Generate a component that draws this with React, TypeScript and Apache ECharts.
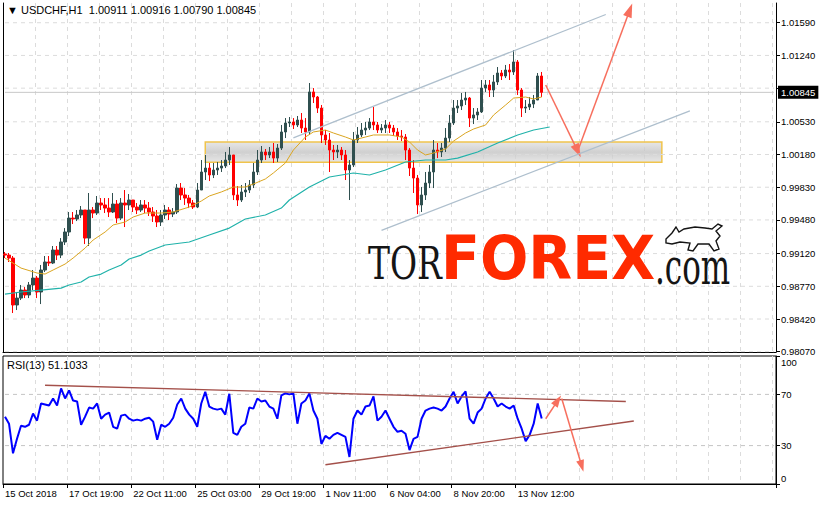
import React, { useEffect, useRef } from 'react';
import * as echarts from 'echarts';

// ---------- data ----------
const CATEGORY_COUNT = 193; // 4-hour slots across the whole plot width (incl. empty future space)
const firstOpen = 0.99115;
const closes = [
  0.99104, 0.99072, 0.98570, 0.98644, 0.98730, 0.98677, 0.98784, 0.98858, 0.98709, 0.98944,
  0.99030, 0.99019, 0.99158, 0.99104, 0.99244, 0.99351, 0.99500, 0.99490, 0.99533, 0.99586,
  0.99286, 0.99586, 0.99554, 0.99661, 0.99640, 0.99607, 0.99565, 0.99650, 0.99500, 0.99661,
  0.99640, 0.99693, 0.99618, 0.99586, 0.99640, 0.99607, 0.99565, 0.99522, 0.99458, 0.99533,
  0.99586, 0.99543, 0.99565, 0.99821, 0.99747, 0.99714, 0.99661, 0.99618, 0.99800, 0.99993,
  1.00035, 0.99961, 1.00014, 1.00035, 1.00057, 1.00121, 1.00175, 0.99747, 0.99693, 0.99779,
  0.99800, 0.99854, 0.99993, 1.00121, 1.00207, 1.00175, 1.00207, 1.00142, 1.00249, 1.00421,
  1.00517, 1.00528, 1.00496, 1.00549, 1.00463, 1.00421, 1.00849, 1.00795, 1.00677, 1.00389,
  1.00335, 1.00228, 1.00207, 1.00228, 1.00175, 1.00014, 1.00068, 1.00335, 1.00389, 1.00442,
  1.00463, 1.00528, 1.00496, 1.00442, 1.00463, 1.00496, 1.00463, 1.00421, 1.00378, 1.00367,
  1.00228, 1.00035, 0.99928, 0.99640, 0.99747, 0.99875, 0.99993, 1.00228, 1.00207, 1.00249,
  1.00356, 1.00517, 1.00677, 1.00699, 1.00763, 1.00784, 1.00570, 1.00603, 1.00635, 1.00891,
  1.00924, 1.00870, 1.00956, 1.01052, 1.01020, 1.01084, 1.01063, 1.01170, 1.00870, 1.00677,
  1.00688, 1.00720, 1.00763, 1.01020, 1.00845,
];
const highs = [
  0.99137, 0.99126, 0.99094, 0.98709, 0.98784, 0.98762, 0.98816, 0.98944, 0.98880, 0.98998,
  0.99094, 0.99094, 0.99201, 0.99201, 0.99286, 0.99393, 0.99565, 0.99565, 0.99586, 0.99629,
  0.99586, 0.99768, 0.99618, 0.99736, 0.99714, 0.99714, 0.99714, 0.99768, 0.99693, 0.99714,
  0.99800, 0.99757, 0.99693, 0.99661, 0.99693, 0.99693, 0.99672, 0.99618, 0.99586, 0.99586,
  0.99640, 0.99618, 0.99607, 0.99864, 0.99875, 0.99821, 0.99747, 0.99693, 0.99875, 1.00121,
  1.00175, 1.00089, 1.00089, 1.00100, 1.00121, 1.00207, 1.00260, 1.00175, 0.99843, 0.99854,
  0.99875, 0.99907, 1.00089, 1.00228, 1.00271, 1.00239, 1.00260, 1.00303, 1.00292, 1.00496,
  1.00570, 1.00581, 1.00570, 1.00592, 1.00624, 1.00570, 1.00945, 1.00891, 1.00806, 1.00710,
  1.00442, 1.00410, 1.00282, 1.00282, 1.00260, 1.00228, 1.00121, 1.00421, 1.00474, 1.00517,
  1.00528, 1.00570, 1.00688, 1.00528, 1.00506, 1.00549, 1.00528, 1.00496, 1.00463, 1.00442,
  1.00399, 1.00249, 1.00121, 0.99961, 0.99832, 0.99993, 1.00068, 1.00335, 1.00303, 1.00303,
  1.00463, 1.00603, 1.00763, 1.00763, 1.00838, 1.00849, 1.00795, 1.00677, 1.00677, 1.00977,
  1.00977, 1.00977, 1.01031, 1.01116, 1.01084, 1.01138, 1.01148, 1.01298, 1.01191, 1.00891,
  1.00763, 1.00795, 1.00817, 1.01052, 1.01063,
];
const lows = [
  0.99072, 0.99030, 0.98484, 0.98516, 0.98623, 0.98644, 0.98644, 0.98730, 0.98644, 0.98580,
  0.98923, 0.98987, 0.99008, 0.99051, 0.99072, 0.99212, 0.99308, 0.99436, 0.99468, 0.99500,
  0.99222, 0.99201, 0.99500, 0.99533, 0.99586, 0.99554, 0.99511, 0.99554, 0.99447, 0.99479,
  0.99404, 0.99586, 0.99565, 0.99543, 0.99565, 0.99554, 0.99522, 0.99458, 0.99404, 0.99415,
  0.99490, 0.99479, 0.99511, 0.99543, 0.99693, 0.99640, 0.99607, 0.99597, 0.99607, 0.99800,
  0.99907, 0.99896, 0.99928, 0.99961, 0.99993, 1.00035, 1.00068, 0.99693, 0.99629, 0.99672,
  0.99725, 0.99768, 0.99821, 0.99961, 1.00089, 1.00121, 1.00142, 1.00089, 1.00100, 1.00228,
  1.00356, 1.00474, 1.00453, 1.00474, 1.00410, 1.00335, 1.00389, 1.00731, 1.00624, 1.00303,
  1.00282, 0.99993, 1.00121, 1.00142, 1.00121, 0.99907, 0.99693, 1.00046, 1.00303, 1.00367,
  1.00389, 1.00442, 1.00442, 1.00410, 1.00410, 1.00410, 1.00410, 1.00378, 1.00335, 1.00324,
  1.00121, 0.99950, 0.99768, 0.99543, 0.99565, 0.99693, 0.99821, 0.99821, 1.00142, 1.00153,
  1.00207, 1.00314, 1.00496, 1.00624, 1.00656, 1.00710, 1.00474, 1.00506, 1.00549, 1.00624,
  1.00849, 1.00795, 1.00795, 1.00924, 1.00977, 1.00998, 1.00977, 1.01031, 1.00817, 1.00581,
  1.00624, 1.00656, 1.00677, 1.00763, 1.00795,
];
const rsiValues = [
  52.6, 47.1, 24.0, 35.3, 45.5, 44.7, 46.3, 55.0, 49.5, 62.9,
  62.1, 61.3, 66.8, 61.3, 74.7, 66.8, 73.1, 65.2, 64.5, 46.3,
  52.6, 59.7, 58.9, 62.9, 51.0, 54.2, 55.8, 44.7, 43.2, 53.4,
  54.2, 51.0, 49.5, 50.3, 49.5, 51.0, 51.8, 48.7, 34.5, 46.3,
  44.7, 47.1, 51.8, 62.1, 66.8, 58.9, 54.2, 51.0, 44.7, 62.9,
  72.0, 60.5, 58.9, 58.1, 58.9, 54.2, 70.5, 40.0, 38.4, 44.7,
  47.1, 59.7, 58.9, 66.8, 64.5, 65.2, 60.5, 58.9, 51.0, 69.2,
  70.8, 70.0, 70.8, 47.1, 62.9, 65.2, 70.8, 57.4, 51.0, 31.3,
  37.6, 35.3, 38.4, 40.0, 38.4, 36.8, 21.1, 51.0, 57.4, 54.2,
  60.5, 61.3, 68.4, 49.5, 52.6, 57.4, 51.0, 44.7, 40.8, 41.6,
  39.2, 26.5, 35.3, 36.8, 51.0, 57.4, 58.9, 59.7, 58.9, 57.4,
  60.5, 66.8, 72.0, 62.9, 68.4, 72.3, 51.0, 47.1, 55.8, 58.9,
  66.8, 72.0, 66.8, 60.5, 62.9, 60.5, 58.9, 61.3, 51.0, 43.2,
  33.5, 38.4, 47.1, 62.9, 51.1,
];
// moving averages, read at [slot, price]
const maFast = [
  [0, 0.99072], [4, 0.98965], [8, 0.98912], [10, 0.98901], [12, 0.98944], [15, 0.99008],
  [17, 0.99072], [20, 0.99179], [22, 0.99265], [25, 0.99351], [27, 0.99426], [30, 0.99458],
  [32, 0.99511], [35, 0.99554], [39, 0.99554], [42, 0.99565], [46, 0.99618], [49, 0.99682],
  [51, 0.99736], [54, 0.99779], [57, 0.99832], [60, 0.99832], [62, 0.99864], [65, 0.99918],
  [67, 0.99982], [70, 1.00089], [72, 1.00228], [75, 1.00367], [77, 1.00421], [80, 1.00442],
  [82, 1.00410], [85, 1.00367], [87, 1.00335], [90, 1.00367], [92, 1.00389], [96, 1.00389],
  [99, 1.00367], [101, 1.00314], [103, 1.00228], [105, 1.00175], [107, 1.00196], [110, 1.00239],
  [112, 1.00324], [115, 1.00410], [117, 1.00453], [120, 1.00496], [122, 1.00603], [125, 1.00710],
  [127, 1.00784], [130, 1.00795], [132, 1.00774], [134, 1.00795],
];
const maSlow = [
  [0, 0.98687], [4, 0.98709], [9, 0.98730], [14, 0.98751], [16, 0.98784], [19, 0.98816],
  [21, 0.98869], [24, 0.98901], [26, 0.98944], [29, 0.98998], [31, 0.99062], [34, 0.99104],
  [36, 0.99147], [40, 0.99212], [46, 0.99244], [51, 0.99319], [56, 0.99393], [60, 0.99490],
  [65, 0.99533], [69, 0.99607], [71, 0.99693], [76, 0.99832], [81, 0.99939], [87, 0.99982],
  [91, 0.99961], [95, 1.00014], [100, 1.00100], [105, 1.00121], [110, 1.00121], [113, 1.00142],
  [118, 1.00207], [123, 1.00303], [128, 1.00389], [132, 1.00442], [136, 1.00474],
];
const channelUpper = [[72, 1.00359], [150, 1.01678]];
const channelLower = [[94, 0.99368], [171, 1.00646]];
const zoneSlots = [50, 164];
const zonePrices = [1.00314, 1.00096];
const forecastPath = [[135, 1.00924], [143, 1.00217], [156, 1.01726]];
const rsiUpperTrend = [[10, 77.1], [155, 64.5]];
const rsiLowerTrend = [[80, 15.0], [157, 49.2]];
const rsiForecast = [[135, 51.0], [138, 65.2], [139, 66.8], [144, 14.0]];
const priceTicks = [1.0159, 1.0124, 1.0089, 1.0053, 1.0018, 0.9983, 0.9948, 0.9912, 0.9877, 0.9842, 0.9807];
// the 1.00890 label sits under the current-price box, so only these are printed
const priceLabels = [1.0159, 1.0124, 1.0053, 1.0018, 0.9983, 0.9948, 0.9912, 0.9877, 0.9842, 0.9807];
const rsiTicks = [0, 30, 70, 100];
const rsiLevels = [30, 70];
const xTickLabels = [
  '15 Oct 2018', '17 Oct 19:00', '22 Oct 11:00', '25 Oct 03:00', '29 Oct 19:00',
  '1 Nov 11:00', '6 Nov 04:00', '8 Nov 20:00', '13 Nov 12:00',
];
const lastPrice = 1.00845;
const priceMin = 0.98067;
const priceMax = 1.01801;
const headerText = '\u25BC USDCHF,H1  1.00911 1.00916 1.00790 1.00845';
const rsiHeader = 'RSI(13) 51.1033';

const FONT = '"Liberation Sans", Arial, sans-serif';

export default function App() {
  const ref = useRef<HTMLDivElement>(null);
  useEffect(() => {
    if (!ref.current) return;
    const chart = echarts.init(ref.current, undefined, { renderer: 'svg' });
    const categories = Array.from({ length: CATEGORY_COUNT }, (_, i) => String(i));
    const lastSlot = CATEGORY_COUNT - 1;
    const candleData = closes.map((c, i) => [i === 0 ? firstOpen : closes[i - 1], c, lows[i], highs[i]]);
    const labelSlot = (i: number) => i % 16 === 0 && i / 16 < xTickLabels.length;
    const gridSlot = (i: number) => i % 8 === 0 && i > 0;
    const dash = { color: '#dcdcdc', type: [4, 4] as any, width: 1 };
    const arrowColor = '#f76f5e';
    // full-width horizontal rules, built as broken polylines from the level arrays
    const rules = (levels: number[]) =>
      levels.flatMap((v) => [[0, v], [lastSlot, v], [lastSlot, '-']]);

    const option: any = {
      animation: false,
      backgroundColor: '#ffffff',
      grid: [
        { left: 3, top: 3, width: 773, height: 349, show: false },
        { left: 3, top: 356, width: 773, height: 128, show: true, borderColor: '#000', borderWidth: 1, backgroundColor: 'transparent' },
      ],
      xAxis: [
        {
          type: 'category', gridIndex: 0, data: categories, boundaryGap: true,
          axisLine: { show: true, lineStyle: { color: '#000', width: 1 } },
          axisTick: { show: false }, axisLabel: { show: false },
          splitLine: { show: true, interval: gridSlot, lineStyle: dash },
        },
        {
          type: 'category', gridIndex: 1, data: categories, boundaryGap: true,
          axisLine: { show: true, lineStyle: { color: '#000', width: 1 } },
          axisTick: { show: true, interval: labelSlot, length: 4, lineStyle: { color: '#000' } },
          axisLabel: {
            interval: labelSlot, align: 'left', margin: 4, color: '#000', fontSize: 9.5, fontFamily: FONT,
            formatter: (_v: string, i: number) => xTickLabels[i / 16] ?? '',
          },
          splitLine: { show: true, interval: gridSlot, lineStyle: dash },
        },
      ],
      yAxis: [
        {
          type: 'value', gridIndex: 0, position: 'right', min: priceMin, max: priceMax,
          axisLine: { show: true, lineStyle: { color: '#000', width: 1 } },
          splitLine: { show: false },
          axisTick: { show: true, customValues: priceTicks, length: 4, lineStyle: { color: '#000' } },
          axisLabel: { customValues: priceLabels, formatter: (v: number) => v.toFixed(5), color: '#000', fontSize: 9.5, fontFamily: FONT, margin: 5 },
        },
        {
          type: 'value', gridIndex: 0, position: 'left', min: priceMin, max: priceMax,
          axisLine: { show: true, lineStyle: { color: '#000', width: 1 } },
          splitLine: { show: false }, axisTick: { show: false }, axisLabel: { show: false },
        },
        {
          type: 'value', gridIndex: 1, position: 'right', min: 0, max: 100,
          axisLine: { show: true, lineStyle: { color: '#000', width: 1 } },
          splitLine: { show: false },
          axisTick: { show: true, customValues: rsiTicks, length: 4, lineStyle: { color: '#000' } },
          axisLabel: {
            customValues: rsiTicks, color: '#000', fontSize: 9.5, fontFamily: FONT, margin: 5,
            formatter: (v: number) => (v === 100 ? '{t|100}' : v === 0 ? '{b|0}' : String(v)),
            rich: {
              t: { fontSize: 9.5, fontFamily: FONT, color: '#000', padding: [12, 0, 0, 0] },
              b: { fontSize: 9.5, fontFamily: FONT, color: '#000', padding: [0, 0, 12, 0] },
            },
          },
        },
      ],
      series: [
        {
          type: 'line', xAxisIndex: 0, yAxisIndex: 0, data: rules(priceTicks), z: 1, silent: true,
          symbol: 'none', connectNulls: false, lineStyle: dash,
        },
        {
          type: 'line', xAxisIndex: 0, yAxisIndex: 0, data: [[0, lastPrice], [lastSlot, lastPrice]], z: 1, silent: true,
          symbol: 'none', lineStyle: { color: '#c8c8c8', width: 1 },
          endLabel: {
            show: true, distance: 4, formatter: () => lastPrice.toFixed(5),
            color: '#fff', backgroundColor: '#000', padding: [2, 3, 1, 3], fontSize: 9.5, fontFamily: FONT,
          },
        },
        {
          type: 'candlestick', xAxisIndex: 0, yAxisIndex: 0, data: candleData, barWidth: 3, z: 2,
          itemStyle: { color: '#2f4f4f', color0: '#ff0000', borderColor: '#2f4f4f', borderColor0: '#ff0000', borderWidth: 1 },
        },
        {
          type: 'line', xAxisIndex: 0, yAxisIndex: 0, data: maSlow, symbol: 'none', z: 3,
          lineStyle: { color: '#20b2aa', width: 1.2 },
        },
        {
          type: 'line', xAxisIndex: 0, yAxisIndex: 0, data: maFast, symbol: 'none', z: 3,
          lineStyle: { color: '#daa520', width: 1 },
        },
        {
          type: 'line', xAxisIndex: 0, yAxisIndex: 0, data: [], z: 4, silent: true,
          markArea: {
            silent: true,
            label: { show: false },
            itemStyle: {
              color: new echarts.graphic.LinearGradient(0, 0, 0, 1, [
                { offset: 0, color: 'rgba(222,222,222,0.75)' },
                { offset: 0.5, color: 'rgba(196,196,196,0.8)' },
                { offset: 1, color: 'rgba(222,222,222,0.75)' },
              ]),
              borderColor: '#f0c44c', borderWidth: 1.5,
            },
            data: [[{ coord: [zoneSlots[0], zonePrices[0]] }, { coord: [zoneSlots[1], zonePrices[1]] }]],
          },
        },
        {
          type: 'line', xAxisIndex: 0, yAxisIndex: 0, data: channelUpper, symbol: 'none', z: 5,
          lineStyle: { color: '#aebfcd', width: 1.3 },
        },
        {
          type: 'line', xAxisIndex: 0, yAxisIndex: 0, data: channelLower, symbol: 'none', z: 5,
          lineStyle: { color: '#aebfcd', width: 1.3 },
        },
        {
          type: 'line', xAxisIndex: 0, yAxisIndex: 0, data: [], z: 6, silent: true,
          markLine: {
            silent: true, symbol: ['none', 'triangle'], symbolSize: [9, 14],
            lineStyle: { color: arrowColor, width: 1.5, type: 'solid' },
            label: { show: false },
            data: [
              [{ coord: forecastPath[0] }, { coord: forecastPath[1] }],
              [{ coord: forecastPath[1] }, { coord: forecastPath[2] }],
            ],
          },
        },
        // RSI panel
        {
          type: 'line', xAxisIndex: 1, yAxisIndex: 2, data: rules(rsiLevels), z: 1, silent: true,
          symbol: 'none', connectNulls: false, lineStyle: { color: '#c4c4c4', type: [4, 4], width: 1 },
        },
        {
          type: 'line', xAxisIndex: 1, yAxisIndex: 2, data: rsiValues, symbol: 'none', z: 3,
          lineStyle: { color: '#0000ff', width: 2 },
        },
        {
          type: 'line', xAxisIndex: 1, yAxisIndex: 2, data: rsiUpperTrend, symbol: 'none', z: 4,
          lineStyle: { color: '#a4504a', width: 1.4 },
        },
        {
          type: 'line', xAxisIndex: 1, yAxisIndex: 2, data: rsiLowerTrend, symbol: 'none', z: 4,
          lineStyle: { color: '#a4504a', width: 1.4 },
        },
        {
          type: 'line', xAxisIndex: 1, yAxisIndex: 2, data: [], z: 6, silent: true,
          markLine: {
            silent: true, symbol: ['none', 'triangle'], symbolSize: [8, 12],
            lineStyle: { color: arrowColor, width: 1.5, type: 'solid' },
            label: { show: false },
            data: [
              [{ coord: rsiForecast[0] }, { coord: rsiForecast[1] }],
              [{ coord: rsiForecast[2] }, { coord: rsiForecast[3] }],
            ],
          },
        },
      ],
      graphic: [
        { type: 'text', x: 7, y: 10, z: 100, style: { text: headerText, font: `11px ${FONT}`, fill: '#000', verticalAlign: 'middle' } },
        { type: 'text', x: 7, y: 365, z: 100, style: { text: rsiHeader, font: `11px ${FONT}`, fill: '#000', verticalAlign: 'middle' } },
        { type: 'text', x: 368, y: 264, z: 100, scaleX: 0.75, style: { text: 'TOR', font: '44px "DejaVu Serif"', fill: '#151515', verticalAlign: 'middle' } },
        { type: 'text', x: 441, y: 258, z: 100, scaleX: 0.95, style: { text: 'FOREX', font: 'bold 60px "DejaVu Sans"', fill: '#ff2a00', verticalAlign: 'middle' } },
        { type: 'text', x: 655, y: 267, z: 100, scaleX: 0.62, style: { text: '.com', font: '50px "DejaVu Serif"', fill: '#151515', verticalAlign: 'middle' } },
        {
          type: 'polygon', z: 100,
          shape: {
            points: [
              [666, 239], [672, 233], [676, 227], [679, 232], [684, 229], [695, 227], [705, 228],
              [712, 229], [718, 224], [722, 226], [716, 231], [720, 236], [716, 241], [719, 249],
              [714, 251], [709, 244], [698, 244], [693, 251], [688, 250], [690, 243], [680, 242],
              [672, 244], [666, 243],
            ],
          },
          style: { fill: '#ffffff', stroke: '#151515', lineWidth: 1.4 },
        },
      ],
    };
    chart.setOption(option);
    return () => chart.dispose();
  }, []);
  return <div ref={ref} style={{ width: 819, height: 505, position: 'absolute', left: 0, top: 0 }} />;
}
